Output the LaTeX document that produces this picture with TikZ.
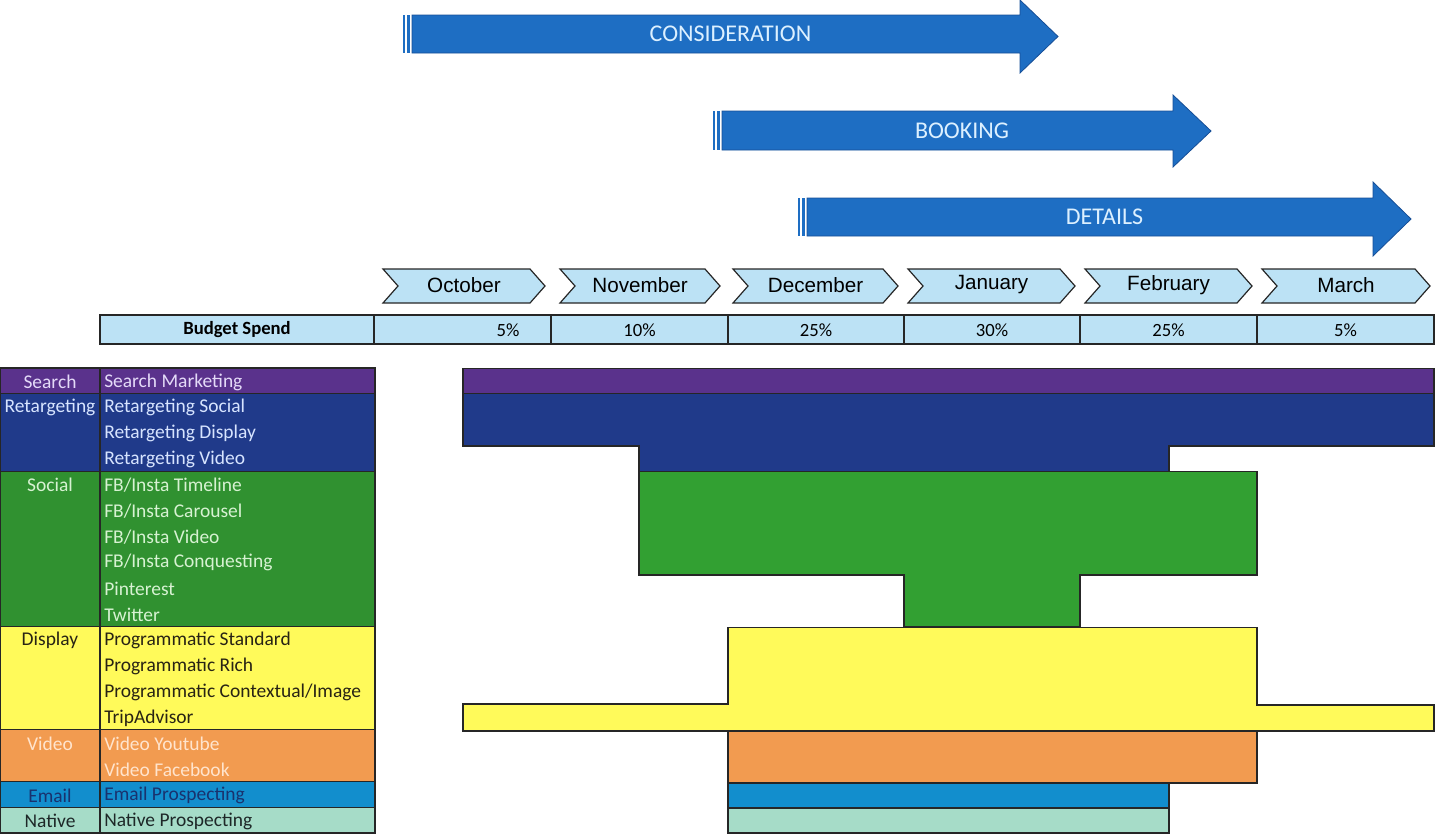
\documentclass[tikz,border=0pt]{standalone}
\usepackage{fontspec}
\setmainfont{Carlito}
\newfontfamily\monthfont{Liberation Sans}

% palette
\definecolor{arrowblue}{RGB}{30,110,195}
\definecolor{arrowedge}{RGB}{22,78,150}
\definecolor{arrowtext}{RGB}{220,240,255}
\definecolor{paleblue}{RGB}{188,226,245}
\definecolor{srchC}{RGB}{90,50,140}
\definecolor{retgC}{RGB}{32,58,138}
\definecolor{socC}{RGB}{48,145,48}
\definecolor{socBar}{RGB}{50,160,50}
\definecolor{dispC}{RGB}{255,250,90}
\definecolor{vidC}{RGB}{242,155,80}
\definecolor{mailC}{RGB}{18,142,205}
\definecolor{natC}{RGB}{166,220,200}
\definecolor{srchT}{RGB}{228,218,248}
\definecolor{retgT}{RGB}{215,228,255}
\definecolor{socT}{RGB}{215,242,210}
\definecolor{dispT}{RGB}{40,35,20}
\definecolor{vidT}{RGB}{255,228,205}
\definecolor{mailT}{RGB}{25,50,110}
\definecolor{natT}{RGB}{30,40,40}

\tikzset{
  arrowbody/.style={fill=arrowblue, draw=arrowedge, line width=0.6pt},
  phaselabel/.style={text=arrowtext, font=\fontsize{18}{21}\selectfont, inner sep=0pt},
  monthtab/.style={fill=paleblue, draw=black!85, line width=0.9pt, line join=miter},
  monthlabel/.style={font=\monthfont\fontsize{15.5}{18}\selectfont, inner sep=0pt},
  budgetcell/.style={fill=paleblue, draw=black!85, line width=0.9pt},
  budgettext/.style={font=\fontsize{14}{16}\selectfont, inner sep=0pt},
  grp/.style={draw=black!85, line width=0.9pt},
  cat/.style={font=\fontsize{14.6}{17}\selectfont, inner sep=0pt},
  item/.style={font=\fontsize{14.6}{17}\selectfont, inner sep=0pt, anchor=west},
  bar/.style={draw=black!85, line width=0.9pt, line join=miter},
}

% striped block arrow: name, left x, head base x, tip x, shaft top, shaft bottom, head top, head bottom, label
\newcommand{\phasearrow}[9]{%
  \fill[arrowblue] (#2,#5) rectangle (#2+2,#6);
  \fill[arrowblue] (#2+4,#5) rectangle (#2+7,#6);
  \draw[arrowbody] (#2+9,#5) -- (#3,#5) -- (#3,#7) -- (#4,{(#7+#8)/2})
    -- (#3,#8) -- (#3,#6) -- (#2+9,#6) -- cycle;
  \node[phaselabel] (#1) at ({(#2+#4)/2},{(#5+#6)/2}) {#9};
}

% chevron month tab: name, left x, right x, label
\newcommand{\monthchev}[4]{%
  \draw[monthtab] (#2,269) -- (#3-15,269) -- (#3,286) -- (#3-15,303)
    -- (#2,303) -- (#2+15,286) -- cycle;
  \node[monthlabel] (#1) at ({(#2+#3)/2},285) {#4};
}

% budget cell: name, left x, right x, text x, label
\newcommand{\budgetcell}[5]{%
  \draw[budgetcell] (#2,315) rectangle (#3,344);
  \node[budgettext] (#1) at (#4,330) {#5};
}

\begin{document}
\begin{tikzpicture}[x=0.75pt,y=-0.75pt]
\useasboundingbox (0,0) rectangle (1437,833);

% ---- phase arrows ----
\phasearrow{consid}{403}{1020}{1058}{15}{53}{0}{73}{CONSIDERATION}
\phasearrow{booking}{713}{1173}{1211}{111}{150}{95}{167}{BOOKING}
\phasearrow{details}{798}{1373}{1411}{198}{236}{182}{256}{DETAILS}

% ---- months ----
\monthchev{oct}{383}{545}{October}
\monthchev{nov}{560}{720}{November}
\monthchev{dec}{733}{898}{December}
\monthchev{jan}{908}{1075}{January}
\monthchev{feb}{1085}{1252}{February}
\monthchev{mar}{1262}{1430}{March}

% ---- budget row ----
\budgetcell{bspend}{100}{374}{237}{\bfseries Budget Spend}
\budgetcell{boct}{374}{551}{508}{5\%}
\budgetcell{bnov}{551}{728}{639.5}{10\%}
\budgetcell{bdec}{728}{904}{816}{25\%}
\budgetcell{bjan}{904}{1080}{992}{30\%}
\budgetcell{bfeb}{1080}{1257}{1168.5}{25\%}
\budgetcell{bmar}{1257}{1434}{1345.5}{5\%}

% ---- channel table: group blocks ----
\def\rh{25.83}
\draw[grp, fill=srchC] (0,368) rectangle (375,393.8);
\draw[grp, fill=retgC] (0,393.8) rectangle (375,471.3);
\draw[grp, fill=socC]  (0,471.3) rectangle (375,626.3);
\draw[grp, fill=dispC] (0,626.3) rectangle (375,729.6);
\draw[grp, fill=vidC]  (0,729.6) rectangle (375,781.3);
\draw[grp, fill=mailC] (0,781.3) rectangle (375,807.1);
\draw[grp, fill=natC]  (0,807.1) rectangle (375,833);
\draw[grp] (100,368) -- (100,833);

% category labels
\node[cat, text=srchT] (cSearch) at (50,382) {Search};
\node[cat, text=retgT] (cRetarg) at (50,407.8) {Retargeting};
\node[cat, text=socT]  (cSocial) at (50,485.3) {Social};
\node[cat, text=dispT] (cDisplay) at (50,640.3) {Display};
\node[cat, text=vidT]  (cVideo) at (50,743.6) {Video};
\node[cat, text=mailT] (cEmail) at (50,795.3) {Email};
\node[cat, text=natT]  (cNative) at (50,821.1) {Native};

% channel items
\foreach \n/\t/\c [count=\i from 0] in {
  iA/Search Marketing/srchT,
  iB/Retargeting Social/retgT,
  iC/Retargeting Display/retgT,
  iD/Retargeting Video/retgT,
  iE/FB\slash Insta Timeline/socT,
  iF/FB\slash Insta Carousel/socT,
  iG/FB\slash Insta Video/socT,
  iH/FB\slash Insta Conquesting/socT,
  iI/Pinterest/socT,
  iJ/Twitter/socT,
  iK/Programmatic Standard/dispT,
  iL/Programmatic Rich/dispT,
  iM/Programmatic Contextual\slash Image/dispT,
  iN/TripAdvisor/dispT,
  iO/Video Youtube/vidT,
  iP/Video Facebook/vidT,
  iQ/Email Prospecting/mailT,
  iR/Native Prospecting/natT}
  \node[item, text=\c] (\n) at (104,{369.1+\rh*(\i+0.5)}) {\t};

% ---- flighting bars ----
\draw[bar, fill=srchC] (463,368.5) rectangle (1434,393.8);
\draw[bar, fill=retgC] (463,393.8) -- (1434,393.8) -- (1434,446) -- (1169,446)
  -- (1169,471.3) -- (639,471.3) -- (639,446) -- (463,446) -- cycle;
\draw[bar, fill=socBar] (639,471.3) -- (1257,471.3) -- (1257,575) -- (1080,575)
  -- (1080,626.3) -- (904,626.3) -- (904,575) -- (639,575) -- cycle;
\draw[bar, fill=dispC] (728,627.5) -- (1257,627.5) -- (1257,705) -- (1434,705)
  -- (1434,731) -- (463,731) -- (463,704) -- (728,704) -- cycle;
\draw[bar, fill=vidC] (728,731) rectangle (1257,783);
\draw[bar, fill=mailC] (728,783) rectangle (1169,808);
\draw[bar, fill=natC] (728,808) rectangle (1169,833);
\end{tikzpicture}
\end{document}
